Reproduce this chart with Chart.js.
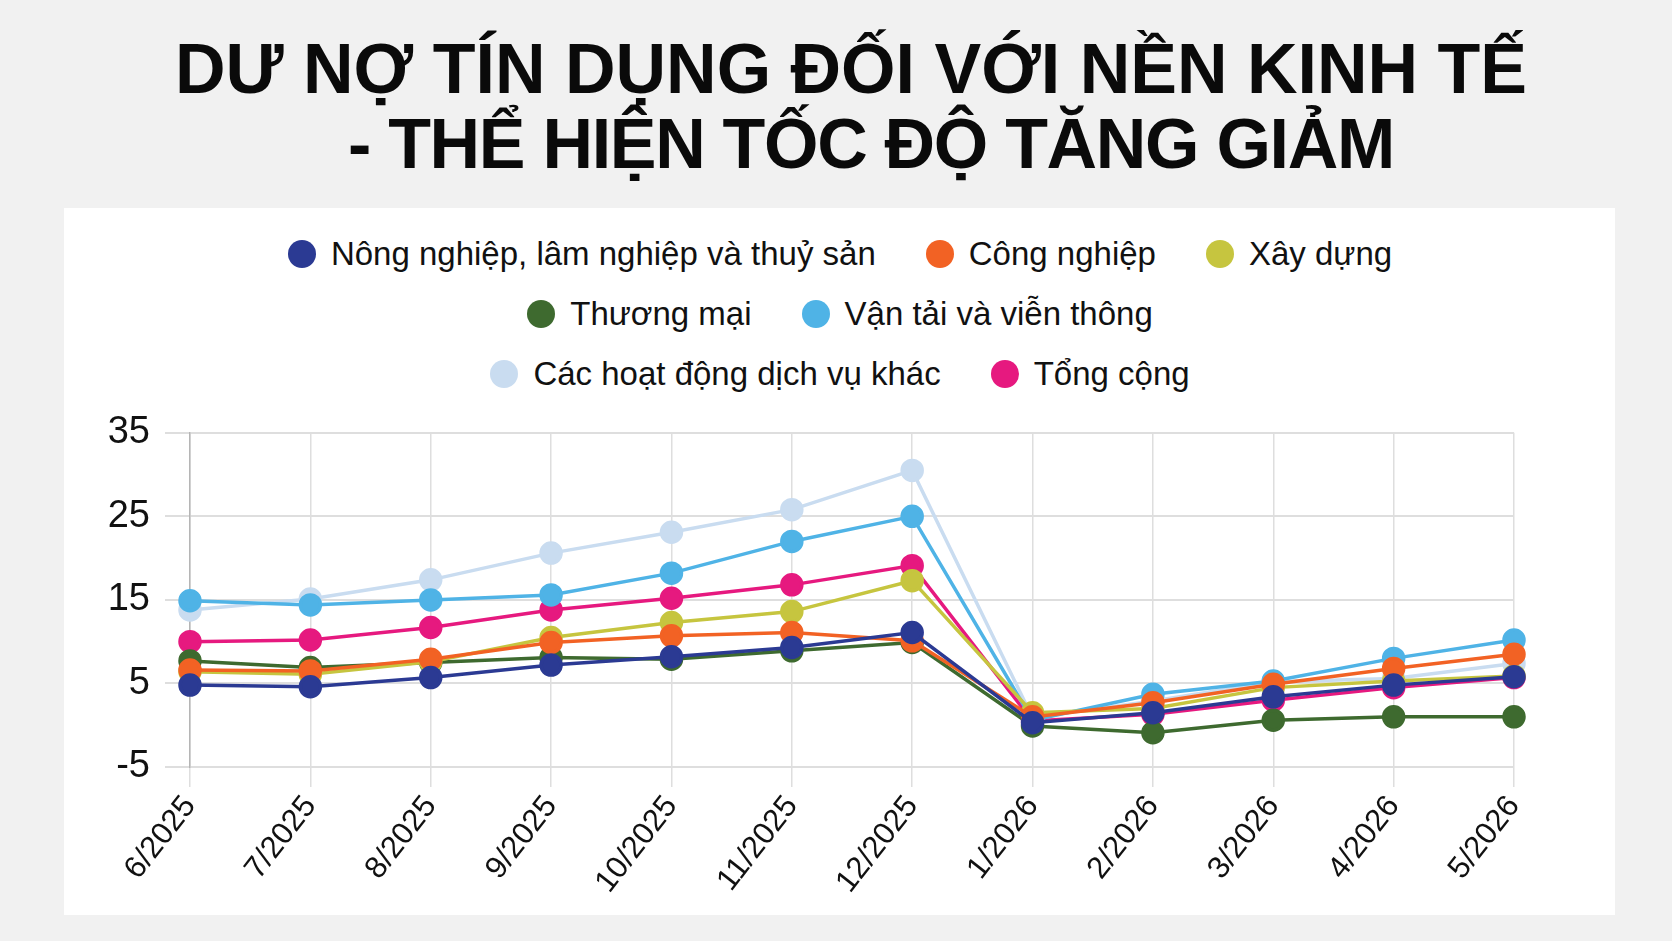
<!DOCTYPE html>
<html lang="vi">
<head>
<meta charset="utf-8">
<title>Dư nợ tín dụng</title>
<script src="https://cdn.jsdelivr.net/npm/chart.js"></script>
<style>
  html, body { margin: 0; padding: 0; }
  body {
    width: 1672px; height: 941px; overflow: hidden;
    background: #f1f1f1;
    font-family: "Liberation Sans", Arial, sans-serif;
    position: relative;
  }
  .title {
    position: absolute; left: 0; width: 1672px;
    text-align: center; font-weight: bold; font-size: 70px;
    color: #0a0a0a; line-height: 77px; white-space: nowrap;
    box-sizing: border-box;
  }
  #t1 { top: 31px; padding-left: 30px; }
  #t2 { top: 106px; padding-left: 70px; letter-spacing: -1.3px; }
  #panel {
    position: absolute; left: 64px; top: 208px; width: 1551px; height: 707px;
    background: #ffffff;
  }
  #legend { position: absolute; left: 0; top: 224px; width: 1680px; }
  .row { display: flex; justify-content: center; height: 60px; align-items: center; }
  .item { display: flex; align-items: center; margin: 0 25px; font-size: 33px; color: #111; }
  .dot { width: 28px; height: 28px; border-radius: 50%; margin-right: 15px; }
  #wrap { position: absolute; left: 64px; top: 395px; width: 1551px; height: 520px; }
</style>
</head>
<body>
<div class="title" id="t1">DƯ NỢ TÍN DỤNG ĐỐI VỚI NỀN KINH TẾ</div>
<div class="title" id="t2">- THỂ HIỆN TỐC ĐỘ TĂNG GIẢM</div>
<div id="panel"></div>
<div id="legend"></div>
<div id="wrap"><canvas id="creditChart"></canvas></div>
<script>
// Tháng
const categories = ["6/2025", "7/2025", "8/2025", "9/2025", "10/2025", "11/2025",
                    "12/2025", "1/2026", "2/2026", "3/2026", "4/2026", "5/2026"];

// Tốc độ tăng (%) theo ngành
const nongNghiep = [4.8, 4.6, 5.7, 7.2, 8.2, 9.3, 11.1, 0.3, 1.5, 3.4, 4.8, 5.8];
const congNghiep = [6.6, 6.5, 7.9, 9.9, 10.7, 11.1, 10.1, 1.0, 2.7, 4.9, 6.8, 8.5];
const xayDung = [6.4, 6.1, 7.6, 10.5, 12.3, 13.6, 17.3, 1.5, 2.0, 4.5, 5.3, 5.9];
const thuongMai = [7.7, 6.9, 7.5, 8.1, 7.9, 8.9, 9.9, -0.1, -0.9, 0.6, 1.0, 1.0];
const vanTai = [14.9, 14.4, 15.0, 15.6, 18.2, 22.0, 25.0, 0.6, 3.7, 5.3, 8.0, 10.2];
const dichVuKhac = [13.8, 15.1, 17.4, 20.6, 23.1, 25.8, 30.5, 0.9, 2.9, 5.2, 5.6, 7.4];
const tongCong = [10.0, 10.2, 11.7, 13.8, 15.2, 16.8, 19.1, 0.5, 1.3, 3.0, 4.5, 5.7];

const seriesNames = ["Nông nghiệp, lâm nghiệp và thuỷ sản", "Công nghiệp", "Xây dựng",
                     "Thương mại", "Vận tải và viễn thông", "Các hoạt động dịch vụ khác", "Tổng cộng"];
const seriesData = [nongNghiep, congNghiep, xayDung, thuongMai, vanTai, dichVuKhac, tongCong];
const colors = ["#2b3a93", "#f26224", "#c6c53f", "#3e6a2f", "#4fb3e6", "#c9dcf0", "#e6197f"];
const legendRows = [[0, 1, 2], [3, 4], [5, 6]];

// Legend (HTML, 3 rows like the original)
const legend = document.getElementById("legend");
legendRows.forEach(r => {
    let row = document.createElement("div");
    row.className = "row";
    r.forEach(i => {
        let item = document.createElement("div");
        item.className = "item";
        item.innerHTML = `<span class="dot" style="background:${colors[i]}"></span>${seriesNames[i]}`;
        row.appendChild(item);
    });
    legend.appendChild(row);
});

let ctx = document.getElementById("creditChart").getContext("2d");
new Chart(ctx, {
    type: "line",
    data: {
        labels: categories,
        datasets: seriesData.map((d, i) => ({
            label: seriesNames[i],
            data: d,
            borderColor: colors[i],
            backgroundColor: colors[i],
            pointBackgroundColor: colors[i],
            pointBorderColor: colors[i],
            borderWidth: 3.5,
            pointRadius: 10,
            pointHoverRadius: 10,
            tension: 0,
            fill: false
        }))
    },
    options: {
        responsive: true,
        maintainAspectRatio: false,
        animation: false,
        layout: { padding: { top: 27, right: 101, bottom: 6, left: 0 } },
        plugins: { legend: { display: false }, tooltip: { enabled: false } },
        scales: {
            x: {
                afterFit: s => { s.height = 142; },
                grid: { color: "#dedede", lineWidth: 1.5, tickLength: 20 },
                border: { display: false },
                ticks: {
                    color: "#111",
                    font: { family: "Liberation Sans", size: 31 },
                    minRotation: 52, maxRotation: 52, autoSkip: false, padding: 2
                }
            },
            y: {
                min: -5, max: 35,
                afterFit: s => { s.width = 126; },
                grid: { color: "#dedede", lineWidth: 2, tickLength: 25 },
                border: { display: true, color: "#b5b5b5", width: 1.5 },
                ticks: {
                    stepSize: 10, color: "#111", padding: 15,
                    font: { family: "Liberation Sans", size: 38 }
                }
            }
        }
    }
});
</script>
</body>
</html>
